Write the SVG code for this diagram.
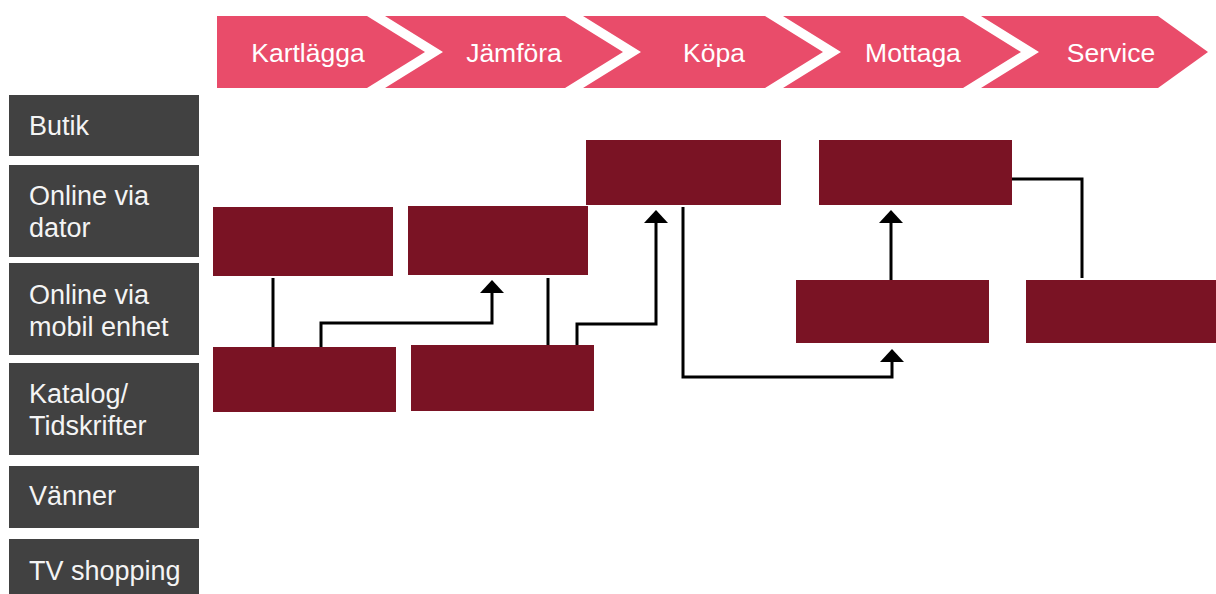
<svg xmlns="http://www.w3.org/2000/svg" width="1216" height="594" viewBox="0 0 1216 594">
<defs>
<style>
.stage{fill:#e94c6a}
.stxt{font-family:"Liberation Sans",Arial,sans-serif;font-size:26.5px;fill:#ffffff;text-anchor:middle}
.lab{fill:#414141}
.ltxt{font-family:"Liberation Sans",Arial,sans-serif;font-size:27px;fill:#f4f4f4}
.box{fill:#7a1324}
.con{fill:none;stroke:#000;stroke-width:3}
</style>
<marker id="ah" markerUnits="userSpaceOnUse" markerWidth="14" markerHeight="24" viewBox="0 0 14 24" refX="0" refY="12" orient="auto">
<path d="M0,0 L13,12 L0,24 z" fill="#000"/>
</marker>
</defs>
<rect width="1216" height="594" fill="#fff"/>
<g id="stage-kartlagga"><polygon class="stage" points="217,16 367,16 425,52 367,88 217,88"/><text class="stxt" x="308" y="62">Kartlägga</text></g>
<g id="stage-jamfora"><polygon class="stage" points="385,16 565,16 623,52 565,88 385,88 443,52"/><text class="stxt" x="514" y="62">Jämföra</text></g>
<g id="stage-kopa"><polygon class="stage" points="583,16 765,16 823,52 765,88 583,88 641,52"/><text class="stxt" x="714" y="62">Köpa</text></g>
<g id="stage-mottaga"><polygon class="stage" points="783,16 963,16 1021,52 963,88 783,88 841,52"/><text class="stxt" x="913" y="62">Mottaga</text></g>
<g id="stage-service"><polygon class="stage" points="981,16 1158,16 1208,52 1158,88 981,88 1039,52"/><text class="stxt" x="1111" y="62">Service</text></g>

<g id="lab-butik"><rect class="lab" x="9" y="95" width="190" height="61"/><text class="ltxt" x="29" y="135">Butik</text></g>
<g id="lab-dator"><rect class="lab" x="9" y="165" width="190" height="92"/><text class="ltxt" x="29" y="205">Online via</text><text class="ltxt" x="29" y="237">dator</text></g>
<g id="lab-mobil"><rect class="lab" x="9" y="263" width="190" height="92"/><text class="ltxt" x="29" y="304">Online via</text><text class="ltxt" x="29" y="336">mobil enhet</text></g>
<g id="lab-katalog"><rect class="lab" x="9" y="363" width="190" height="92"/><text class="ltxt" x="29" y="403">Katalog/</text><text class="ltxt" x="29" y="435">Tidskrifter</text></g>
<g id="lab-vanner"><rect class="lab" x="9" y="466" width="190" height="62"/><text class="ltxt" x="29" y="505">Vänner</text></g>
<g id="lab-tv"><rect class="lab" x="9" y="539" width="190" height="55"/><text class="ltxt" x="29" y="580">TV shopping</text></g>

<g id="box-a"><rect class="box" x="213" y="207" width="180" height="69"/></g>
<g id="box-b"><rect class="box" x="408" y="206" width="180" height="69"/></g>
<g id="box-c"><rect class="box" x="213" y="347" width="183" height="65"/></g>
<g id="box-d"><rect class="box" x="411" y="345" width="183" height="66"/></g>
<g id="box-e"><rect class="box" x="586" y="140" width="195" height="65"/></g>
<g id="box-f"><rect class="box" x="819" y="140" width="193" height="65"/></g>
<g id="box-g"><rect class="box" x="796" y="280" width="193" height="63"/></g>
<g id="box-h"><rect class="box" x="1026" y="280" width="190" height="63"/></g>

<g id="connectors">
<path class="con" d="M273,278 V347"/>
<path class="con" d="M321,347 V323 H492 V293" marker-end="url(#ah)"/>
<path class="con" d="M548,278 V345"/>
<path class="con" d="M577,345 V324 H656 V223" marker-end="url(#ah)"/>
<path class="con" d="M683,207 V377 H892 V362" marker-end="url(#ah)"/>
<path class="con" d="M891,280 V223" marker-end="url(#ah)"/>
<path class="con" d="M1012,179 H1082 V278"/>
</g>
</svg>
